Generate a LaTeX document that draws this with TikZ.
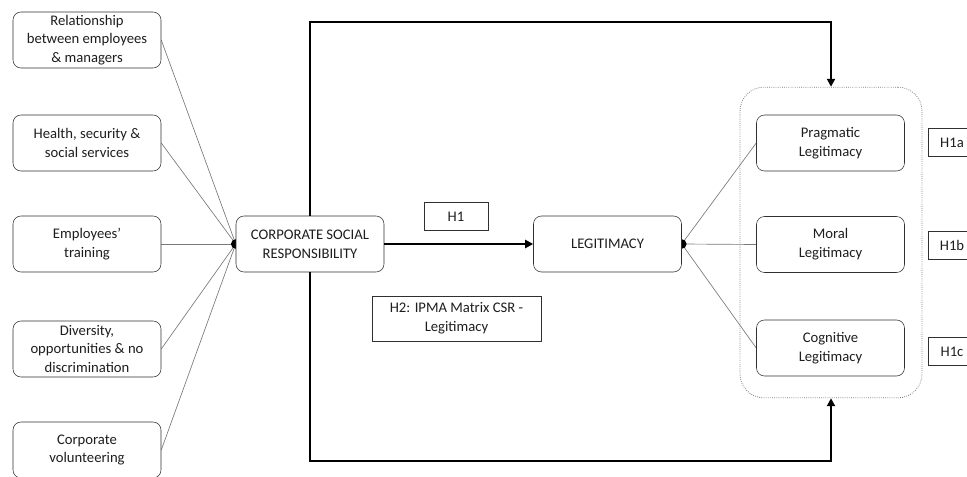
\documentclass[tikz,border=0pt]{standalone}
\usepackage{fontspec}
\setmainfont{Carlito}
\usepackage{tikz}
\usetikzlibrary{arrows.meta,backgrounds}
\definecolor{BoxGray}{HTML}{303030}
\definecolor{LineGray}{HTML}{7A7A7A}
\definecolor{TextGray}{HTML}{1E1E1E}

\begin{document}
\begin{tikzpicture}[x=0.75pt, y=-0.75pt,
	factor/.style={draw=BoxGray, rounded corners=6pt, fill=white, align=center, text=TextGray, minimum width=111pt, minimum height=42pt, inner sep=1pt, font=\fontsize{11}{14}\selectfont},
	hyp/.style={draw=BoxGray, fill=white, align=center, text=TextGray, inner sep=1pt, minimum height=21pt, font=\fontsize{11}{14}\selectfont},
	link/.style={LineGray, line width=0.5pt},
	flow/.style={black, line width=1.6pt, -{Triangle[length=6pt, width=6pt]}}]

				\useasboundingbox (0,0) rectangle (967,477);

				\foreach \txt/\ypos [count=\i] in {{Relationship\\between employees\\\& managers}/40, {Health, security \&\\social services}/143, {Employees’\\training}/244, {Diversity,\\opportunities \& no\\discrimination}/349, {Corporate\\volunteering}/450} {
					\node[factor] (f\i) at (87,\ypos) {\txt};
				}

				\node[factor] (csr) at (310,244) {CORPORATE SOCIAL\\RESPONSIBILITY};
				\node[factor] (legit) at (607.5,244) {LEGITIMACY};

				\node[draw=LineGray, densely dotted, line width=0.6pt, rounded corners=18pt, minimum width=136.5pt, minimum height=233pt] (dims) at (831,242.5) {};
				\node[factor] (prag) at (830.5,143) {Pragmatic\\Legitimacy};
				\node[factor] (moral) at (830.5,244.5) {Moral\\Legitimacy};
				\node[factor] (cogn) at (830.5,348) {Cognitive\\Legitimacy};

				\node[hyp, minimum width=48pt] (h1) at (456,216.5) {H1};
				\node[hyp, minimum width=126.75pt, minimum height=33.75pt] (h2) at (456.5,318.5) {H2: IPMA Matrix CSR -\\Legitimacy};
				\node[hyp, minimum width=36pt] (h1a) at (952,142.5) {H1a};
				\node[hyp, minimum width=36pt] (h1b) at (952,245) {H1b};
				\node[hyp, minimum width=36pt] (h1c) at (952,351.5) {H1c};

				\begin{scope}[on background layer]
					\foreach \i in {1,...,5} {
						\draw[link] (f\i.east) -- (csr.west);
					}
					\foreach \d in {prag, moral, cogn} {
						\draw[link] (legit.east) -- (\d.west);
					}
					\fill[black] (csr.west) circle (3.6pt);
					\fill[black] (legit.east) circle (3.6pt);
				\end{scope}

				\draw[flow] (csr.east) -- (legit.west);
				\draw[flow] (csr.north) -- (csr.north |- 0,22) -| (dims.north);
				\draw[flow] (csr.south) -- (csr.south |- 0,461) -| (dims.south);

\end{tikzpicture}
\end{document}
